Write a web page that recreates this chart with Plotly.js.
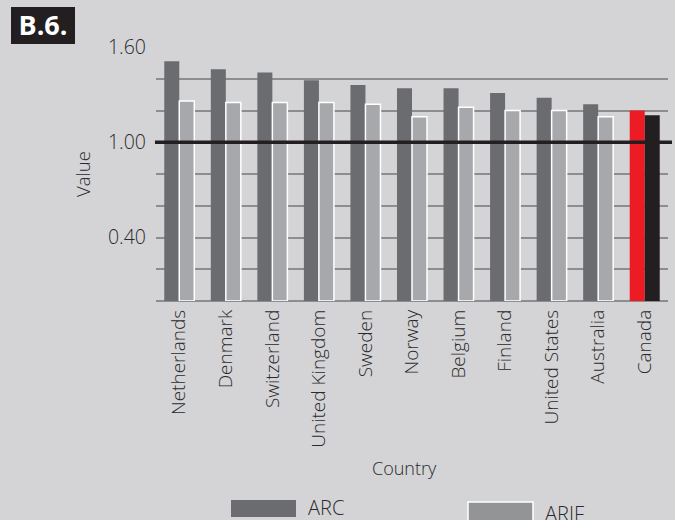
<!DOCTYPE html>
<html>
<head>
<meta charset="utf-8">
<script src="https://cdn.plot.ly/plotly-3.0.1.min.js"></script>
<style>
  html, body { margin: 0; padding: 0; background: #d4d4d6; }
  #chart { width: 675px; height: 520px; }
</style>
</head>
<body>
<div id="chart"></div>
<script>
const countries = ["Netherlands", "Denmark", "Switzerland", "United Kingdom", "Sweden", "Norway", "Belgium", "Finland", "United States", "Australia", "Canada"];
const arcValues  = [1.51, 1.46, 1.44, 1.39, 1.36, 1.34, 1.34, 1.31, 1.28, 1.24, 1.20];
const arifValues = [1.26, 1.25, 1.25, 1.25, 1.24, 1.16, 1.22, 1.20, 1.20, 1.16, 1.17];
const yTickVals = [0, 0.2, 0.4, 0.6, 0.8, 1.0, 1.2, 1.4, 1.6];
const yTickText = ["", "", "0.40", "", "", "1.00", "", "", "1.60"];
const seriesNames = ["ARC", "ARIF"];

const highlight = "Canada";
const arcColors = countries.map(c => c === highlight ? "#ed1c24" : "#6b6c6f");
const arifColors = countries.map(c => c === highlight ? "#231f20" : "#a7a8ab");
const arifLineW = countries.map(c => c === highlight ? 0 : 1.5);

const font = "Open Sans, sans-serif";
const textColor = "#2a2a2c";
const lightW = 300;

const traces = [
  { type: "bar", name: seriesNames[0], x: countries, y: arcValues,
    marker: { color: arcColors, line: { width: 0 } }, showlegend: false },
  { type: "bar", name: seriesNames[1], x: countries, y: arifValues,
    marker: { color: arifColors, line: { color: "#ffffff", width: arifLineW } }, showlegend: false }
];

// paper coordinate helpers (plot area: x 156..668, y 47..301 px)
const L = 156, R = 668, T = 47, B = 301;
const px = x => (x - L) / (R - L);
const py = y => (B - y) / (B - T);

const layout = {
  width: 675, height: 520,
  paper_bgcolor: "#d4d4d6", plot_bgcolor: "#d4d4d6",
  margin: { l: L, r: 675 - R, t: T, b: 520 - B, pad: 0 },
  barmode: "group", bargap: 0.355, bargroupgap: 0,
  font: { family: font, color: textColor, size: 18, weight: lightW },
  title: { text: "<b>B.6.</b>", font: { family: font, size: 27, color: "#ffffff" },
           x: 43 / 675, xanchor: "center", xref: "container",
           y: 1 - 26 / 520, yanchor: "middle", yref: "container" },
  xaxis: {
    tickangle: -90, tickfont: { size: 19, family: font, color: textColor, weight: lightW },
    showgrid: false, showline: false, zeroline: false, ticks: "", ticklabelstandoff: 4
  },
  yaxis: {
    range: [0, 1.6], tickvals: yTickVals, ticktext: yTickText,
    tickfont: { size: 19.5, family: font, color: textColor, weight: lightW },
    showgrid: true, gridcolor: "#8d8d90", gridwidth: 2,
    zeroline: true, zerolinecolor: "#8d8d90", zerolinewidth: 2,
    showline: false, ticks: "", ticklabelstandoff: 9,
    title: { text: "Value", font: { size: 18.5, family: font, color: textColor, weight: lightW }, standoff: 12 }
  },
  shapes: [
    { type: "rect", xref: "paper", yref: "paper", x0: px(11), x1: px(75), y0: py(44), y1: py(7),
      fillcolor: "#231f20", line: { width: 0 }, layer: "above" },
    { type: "line", xref: "paper", yref: "y", x0: -0.002, x1: px(672), y0: 1.0, y1: 1.0,
      line: { color: "#231f20", width: 3.5 }, layer: "above" },
    { type: "rect", xref: "paper", yref: "paper", x0: px(231), x1: px(296), y0: py(517), y1: py(500),
      fillcolor: "#6b6c6f", line: { width: 0 } },
    { type: "rect", xref: "paper", yref: "paper", x0: px(468), x1: px(533), y0: py(524), y1: py(502),
      fillcolor: "#939496", line: { width: 1.5, color: "#ffffff" } }
  ],
  annotations: [
    { xref: "paper", yref: "paper", x: px(404), y: py(468), text: "Country",
      showarrow: false, xanchor: "center", yanchor: "middle",
      font: { size: 18, family: font, color: textColor, weight: lightW } },
    { xref: "paper", yref: "paper", x: px(306), y: py(508), text: seriesNames[0],
      showarrow: false, xanchor: "left", yanchor: "middle",
      font: { size: 20, family: font, color: textColor, weight: lightW } },
    { xref: "paper", yref: "paper", x: px(543), y: py(513), text: seriesNames[1],
      showarrow: false, xanchor: "left", yanchor: "middle",
      font: { size: 20, family: font, color: textColor, weight: lightW } }
  ]
};

Plotly.newPlot("chart", traces, layout, { displayModeBar: false, staticPlot: true });
</script>
</body>
</html>
